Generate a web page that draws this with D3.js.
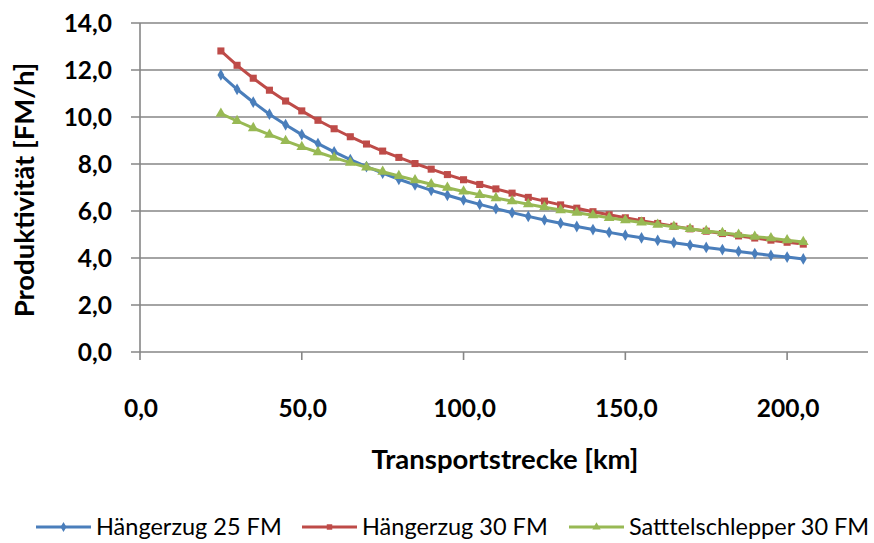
<!DOCTYPE html>
<html>
<head>
<meta charset="utf-8">
<script src="https://cdn.jsdelivr.net/npm/d3@7/dist/d3.min.js"></script>
<style>
  body { margin: 0; background: #fff; }
  svg { display: block; font-family: Lato, "Open Sans", sans-serif; }
  .tick-label { font-weight: bold; font-size: 24.5px; fill: #000; }
  .axis-title { font-weight: bold; font-size: 27.5px; fill: #000; }
  .legend-text { font-size: 23.5px; fill: #000; }
</style>
</head>
<body>
<svg id="chart" width="874" height="543"></svg>
<script>
  // Transportstrecke [km]
  const distances = [25, 30, 35, 40, 45, 50, 55, 60, 65, 70, 75, 80, 85, 90, 95, 100,
    105, 110, 115, 120, 125, 130, 135, 140, 145, 150, 155, 160, 165, 170, 175, 180,
    185, 190, 195, 200, 205];

  const haengerzug25 = [11.79, 11.18, 10.63, 10.12, 9.67, 9.25, 8.87, 8.52, 8.19, 7.89,
    7.61, 7.35, 7.11, 6.88, 6.67, 6.47, 6.28, 6.10, 5.93, 5.77, 5.62, 5.48, 5.34, 5.21,
    5.09, 4.97, 4.86, 4.75, 4.65, 4.55, 4.45, 4.36, 4.28, 4.19, 4.11, 4.04, 3.96];

  const haengerzug30 = [12.81, 12.20, 11.65, 11.14, 10.68, 10.26, 9.86, 9.50, 9.16, 8.85,
    8.55, 8.28, 8.02, 7.78, 7.55, 7.33, 7.13, 6.94, 6.76, 6.58, 6.42, 6.26, 6.12, 5.97,
    5.84, 5.71, 5.59, 5.47, 5.35, 5.24, 5.14, 5.04, 4.94, 4.85, 4.76, 4.67, 4.59];

  const sattelschlepper30 = [10.14, 9.83, 9.53, 9.25, 8.98, 8.73, 8.50, 8.27, 8.06, 7.86,
    7.67, 7.49, 7.31, 7.14, 6.99, 6.83, 6.69, 6.55, 6.42, 6.29, 6.16, 6.04, 5.93, 5.82,
    5.71, 5.61, 5.51, 5.42, 5.33, 5.24, 5.15, 5.07, 4.99, 4.91, 4.84, 4.76, 4.68];

  const xTicks = [0, 50, 100, 150, 200];
  const yTicks = [0, 2, 4, 6, 8, 10, 12, 14];

  const seriesNames = ['Hängerzug 25 FM', 'Hängerzug 30 FM', 'Satttelschlepper 30 FM'];
  const seriesColors = ['#4A7EBB', '#BE4B48', '#98B954'];
  const seriesSymbols = [d3.symbolDiamond, d3.symbolSquare, d3.symbolTriangle];
  const seriesValues = [haengerzug25, haengerzug30, sattelschlepper30];

  const svg = d3.select('#chart');
  const fmt = v => v.toFixed(1).replace('.', ',');

  const x = d3.scaleLinear().domain([0, 225]).range([140, 868]);
  const y = d3.scaleLinear().domain([0, 14]).range([352, 23]);
  const gridColor = '#868686';

  // Gitternetz
  svg.append('g')
    .selectAll('line')
    .data(yTicks)
    .join('line')
    .attr('x1', x(0) - 9)
    .attr('x2', x.range()[1])
    .attr('y1', d => y(d))
    .attr('y2', d => y(d))
    .attr('stroke', gridColor)
    .attr('stroke-width', 1.6);

  // y-Achse
  svg.append('line')
    .attr('x1', x(0)).attr('x2', x(0))
    .attr('y1', y(14)).attr('y2', y(0) + 8)
    .attr('stroke', gridColor).attr('stroke-width', 1.6);

  // x-Achse Striche
  svg.append('g')
    .selectAll('line')
    .data(xTicks.slice(1))
    .join('line')
    .attr('x1', d => x(d)).attr('x2', d => x(d))
    .attr('y1', y(0)).attr('y2', y(0) + 8)
    .attr('stroke', gridColor).attr('stroke-width', 1.6);

  svg.append('g')
    .selectAll('text')
    .data(yTicks)
    .join('text')
    .attr('class', 'tick-label')
    .attr('x', 112)
    .attr('y', d => y(d))
    .attr('dy', '0.36em')
    .attr('text-anchor', 'end')
    .text(fmt);

  svg.append('g')
    .selectAll('text')
    .data(xTicks)
    .join('text')
    .attr('class', 'tick-label')
    .attr('x', d => x(d) + 1)
    .attr('y', 408)
    .attr('dy', '0.36em')
    .attr('text-anchor', 'middle')
    .text(fmt);

  svg.append('text')
    .attr('class', 'axis-title')
    .attr('x', 505).attr('y', 459).attr('dy', '0.36em')
    .attr('text-anchor', 'middle')
    .text('Transportstrecke [km]');

  svg.append('text')
    .attr('class', 'axis-title')
    .attr('transform', 'translate(24,190) rotate(-90)')
    .attr('dy', '0.36em')
    .attr('text-anchor', 'middle')
    .text('Produktivität [FM/h]');

  const line = d3.line().x(d => x(d[0])).y(d => y(d[1]));

  seriesValues.forEach((vals, i) => {
    const pts = distances.map((dist, j) => [dist, vals[j]]);
    const g = svg.append('g');
    g.append('path')
      .datum(pts)
      .attr('d', line)
      .attr('fill', 'none')
      .attr('stroke', seriesColors[i])
      .attr('stroke-width', 3);
    g.selectAll('path.m')
      .data(pts)
      .join('path')
      .attr('class', 'm')
      .attr('transform', d => `translate(${x(d[0])},${y(d[1])})`)
      .attr('d', d3.symbol(seriesSymbols[i], i === 0 ? 40 : 50))
      .attr('fill', seriesColors[i]);
  });

  // Legende
  const legendX = [36, 302, 569];
  const legend = svg.append('g');
  seriesNames.forEach((name, i) => {
    const lg = legend.append('g').attr('transform', `translate(${legendX[i]},527)`);
    lg.append('line')
      .attr('x1', 0).attr('x2', 55)
      .attr('stroke', seriesColors[i]).attr('stroke-width', 3);
    lg.append('path')
      .attr('transform', 'translate(27.5,0)')
      .attr('d', d3.symbol(seriesSymbols[i], 30))
      .attr('fill', seriesColors[i]);
    lg.append('text')
      .attr('class', 'legend-text')
      .attr('x', 60).attr('dy', '0.36em')
      .text(name);
  });
</script>
</body>
</html>
